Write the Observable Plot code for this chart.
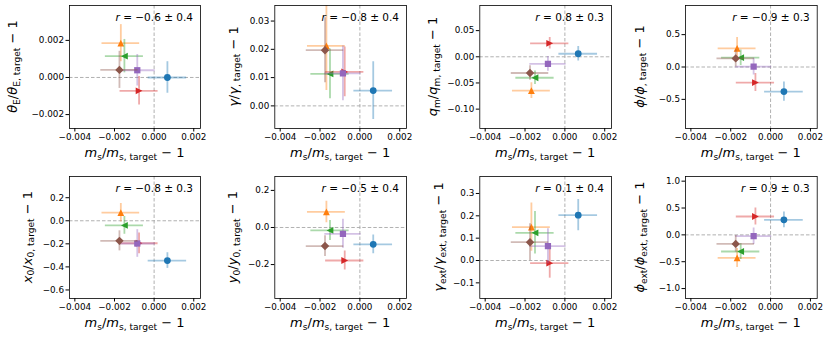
<!DOCTYPE html>
<html><head><meta charset="utf-8">
<script src="https://cdn.jsdelivr.net/npm/d3@7"></script>
<script src="https://cdn.jsdelivr.net/npm/@observablehq/plot@0.6"></script>
<style>
body{margin:0;background:#fff;}
#root{position:relative;width:830px;height:341px;background:#fff;font-family:"DejaVu Sans",sans-serif;}
#root svg{position:absolute;overflow:visible;background:transparent;}
#root text{white-space:pre;}
</style></head><body><div id="root"></div>
<script>
// ---- data ----
const modelColors = ["#1f77b4","#ff7f0e","#2ca02c","#d62728","#9467bd","#8c564b"];
const modelMarkers = ["circle","triangleUp","triangleLeft","triangleRight","square","diamond"];
const msDev = [0.00067,-0.00168,-0.0015,-0.00076,-0.00085,-0.00175];
const msErr = [0.00097,0.00095,0.00096,0.00096,0.00091,0.00094];
const xTicks = [-0.004,-0.002,0,0.002];

const thetaEDev = [0.0,0.00185,0.00115,-0.00072,0.00039,0.00041];
const thetaEErr = [0.00085,0.001,0.0009,0.00077,0.00085,0.001];
const gammaDev = [0.0054,0.0212,0.0113,0.012,0.0115,0.0197];
const gammaErr = [0.0102,0.0158,0.0088,0.0088,0.0097,0.0115];
const qmDev = [0.0058,-0.0645,-0.040,0.0258,-0.0135,-0.031];
const qmErr = [0.014,0.015,0.013,0.011,0.014,0.014];
const phiDev = [-0.38,0.287,0.144,-0.24,0.005,0.133];
const phiErr = [0.15,0.17,0.12,0.14,0.13,0.13];
const x0Dev = [-0.345,0.07,-0.04,-0.195,-0.197,-0.174];
const x0Err = [0.068,0.08,0.077,0.09,0.12,0.087];
const y0Dev = [-0.091,0.084,-0.016,-0.178,-0.034,-0.1];
const y0Err = [0.05,0.058,0.054,0.051,0.078,0.056];
const gammaExtDev = [0.203,0.149,0.124,-0.012,0.064,0.082];
const gammaExtErr = [0.07,0.108,0.095,0.067,0.078,0.082];
const phiExtDev = [0.28,-0.43,-0.31,0.342,-0.025,-0.168];
const phiExtErr = [0.146,0.177,0.149,0.16,0.155,0.155];

const rTexts = ["−0.6 ± 0.4","−0.8 ± 0.4","0.8 ± 0.3","−0.9 ± 0.3","−0.8 ± 0.3","−0.5 ± 0.4","0.1 ± 0.4","0.9 ± 0.3"];
const yTicks = [[-0.002,0,0.002],[0,0.01,0.02,0.03],[-0.10,-0.05,0,0.05],[-0.5,0,0.5],
                [-0.6,-0.4,-0.2,0,0.2],[-0.2,0,0.2],[-0.1,0,0.1,0.2,0.3],[-1,-0.5,0,0.5,1]];
const yFormats = [".3f",".2f",".2f",".1f",".1f",".1f",".1f",".1f"];
const yDomains = [[-0.00275,0.00388],[-0.008,0.0355],[-0.137,0.098],[-0.95,0.95],
                  [-0.674,0.384],[-0.383,0.275],[-0.17,0.376],[-1.185,1.087]];
const xDomain = [-0.00427,0.00234];

const yLabels = [
  [["θ","i"],["E","sub"],["/",""],["θ","i"],["E, target","sub"],[" − 1",""]],
  [["γ","i"],["/",""],["γ","i"],[", target","sub"],[" − 1",""]],
  [["q","i"],["m","sub"],["/",""],["q","i"],["m, target","sub"],[" − 1",""]],
  [["ϕ","i"],["/",""],["ϕ","i"],[", target","sub"],[" − 1",""]],
  [["x","i"],["0","sub"],["/",""],["x","i"],["0, target","sub"],[" − 1",""]],
  [["y","i"],["0","sub"],["/",""],["y","i"],["0, target","sub"],[" − 1",""]],
  [["γ","i"],["ext","sub"],["/",""],["γ","i"],["ext, target","sub"],[" − 1",""]],
  [["ϕ","i"],["ext","sub"],["/",""],["ϕ","i"],["ext, target","sub"],[" − 1",""]]
];
const xLabel = [["m","i"],["s","sub"],["/",""],["m","i"],["s, target","sub"],[" − 1",""]];

const panelDev = [thetaEDev,gammaDev,qmDev,phiDev,x0Dev,y0Dev,gammaExtDev,phiExtDev];
const panelErr = [thetaEErr,gammaErr,qmErr,phiErr,x0Err,y0Err,gammaExtErr,phiExtErr];

// ---- marker shapes (matplotlib-like) ----
function mSize(size){ return 2*Math.sqrt(size/Math.PI); }
const symbols = {
  circle: {draw(c,s){const m=mSize(s);c.moveTo(m/2,0);c.arc(0,0,m/2,0,2*Math.PI);}},
  square: {draw(c,s){const h=mSize(s)*0.46;c.moveTo(-h,-h);c.lineTo(h,-h);c.lineTo(h,h);c.lineTo(-h,h);c.closePath();}},
  triangleUp: {draw(c,s){const h=mSize(s)/2;c.moveTo(0,-h);c.lineTo(h,h);c.lineTo(-h,h);c.closePath();}},
  triangleLeft: {draw(c,s){const h=mSize(s)/2;c.moveTo(-h,0);c.lineTo(h,-h);c.lineTo(h,h);c.closePath();}},
  triangleRight: {draw(c,s){const h=mSize(s)/2;c.moveTo(h,0);c.lineTo(-h,-h);c.lineTo(-h,h);c.closePath();}},
  diamond: {draw(c,s){const d=mSize(s)*0.62;c.moveTo(0,-d);c.lineTo(d,0);c.lineTo(0,d);c.lineTo(-d,0);c.closePath();}}
};

function addMath(sel, parts, fs){
  let shift = 0;
  parts.forEach(([t,s])=>{
    const ts = sel.append("tspan").text(t);
    if (s==="i") ts.attr("font-style","italic");
    if (s==="sub"){ const d = fs*0.22; ts.attr("font-size",fs*0.7).attr("dy",d - shift); shift = d; }
    else if (shift){ ts.attr("dy",-shift); shift = 0; }
  });
}

const root = document.getElementById("root");
const colLeft = [0,205,410,615];
const colWidth = [205,205,205,215];
const colML = [69,69.3,69.3,70];
const colFrameRight = [200,406,611,816.7];
const yLabelX = [17.3,32.5,26.8,28.5,31.5,32.3,33.3,29.3];

for (let k=0;k<8;k++){
  const col = k%4, row = Math.floor(k/4);
  const left = colLeft[col], width = colWidth[col];
  const mL = colML[col], mR = width - (colFrameRight[col]-left);
  const height = row===0?170:171, mT = row===0?5:6, mB = 43 - (row===0?1:0);
  const rows = msDev.map((x,i)=>({i,x,xe:msErr[i],y:panelDev[k][i],ye:panelErr[k][i]}));
  const marks = [
    Plot.ruleX([0],{stroke:"#a8a8a8",strokeWidth:0.9,strokeDasharray:"3.5,2"}),
    Plot.ruleY([0],{stroke:"#a8a8a8",strokeWidth:0.9,strokeDasharray:"3.5,2"})
  ];
  rows.forEach(d=>{
    const c = modelColors[d.i];
    marks.push(Plot.ruleY([d],{y:"y",x1:e=>e.x-e.xe,x2:e=>e.x+e.xe,stroke:c,strokeOpacity:0.4,strokeWidth:1.8,clip:true}));
    marks.push(Plot.ruleX([d],{x:"x",y1:e=>e.y-e.ye,y2:e=>e.y+e.ye,stroke:c,strokeOpacity:0.4,strokeWidth:1.8,clip:true}));
    marks.push(Plot.dot([d],{x:"x",y:"y",r:3.4,fill:c,stroke:"none",symbol:symbols[modelMarkers[d.i]],clip:true}));
  });
  marks.push(Plot.frame({stroke:"black",strokeWidth:0.8}));
  marks.push(Plot.axisX({ticks:xTicks,tickFormat:d3.format(".3f"),tickSize:3.5,tickPadding:2,label:null}));
  marks.push(Plot.axisY({ticks:yTicks[k],tickFormat:d3.format(yFormats[k]),tickSize:3.5,tickPadding:2,label:null}));
  const svg = Plot.plot({
    width, height, marginLeft:mL, marginRight:mR, marginTop:mT, marginBottom:mB,
    x:{domain:xDomain}, y:{domain:yDomains[k]},
    style:{fontFamily:"DejaVu Sans",fontSize:"8.8px",background:"transparent",overflow:"visible",color:"black"},
    marks
  });
  svg.style.left = left+"px";
  svg.style.top = (row===0?0:170)+"px";
  const s = d3.select(svg);
  const fr = width - mR, ft = mT, fb = height - mB;
  const xl = s.append("text").attr("x",(mL+fr)/2).attr("y",157).attr("text-anchor","middle")
    .attr("font-size",13).attr("font-family","DejaVu Sans").attr("fill","black");
  addMath(xl, xLabel, 13);
  const yl = s.append("text").attr("transform",`translate(${yLabelX[k]},${(ft+fb)/2}) rotate(-90)`)
    .attr("text-anchor","middle").attr("font-size",13).attr("font-family","DejaVu Sans").attr("fill","black");
  addMath(yl, yLabels[k], 13);
  const rt = s.append("text").attr("x",fr-7).attr("y",ft+15.5).attr("text-anchor","end")
    .attr("font-size",10.5).attr("font-family","DejaVu Sans").attr("fill","black");
  rt.append("tspan").attr("font-style","italic").text("r");
  rt.append("tspan").text(" = "+rTexts[k]);
  root.appendChild(svg);
}
</script></body></html>
